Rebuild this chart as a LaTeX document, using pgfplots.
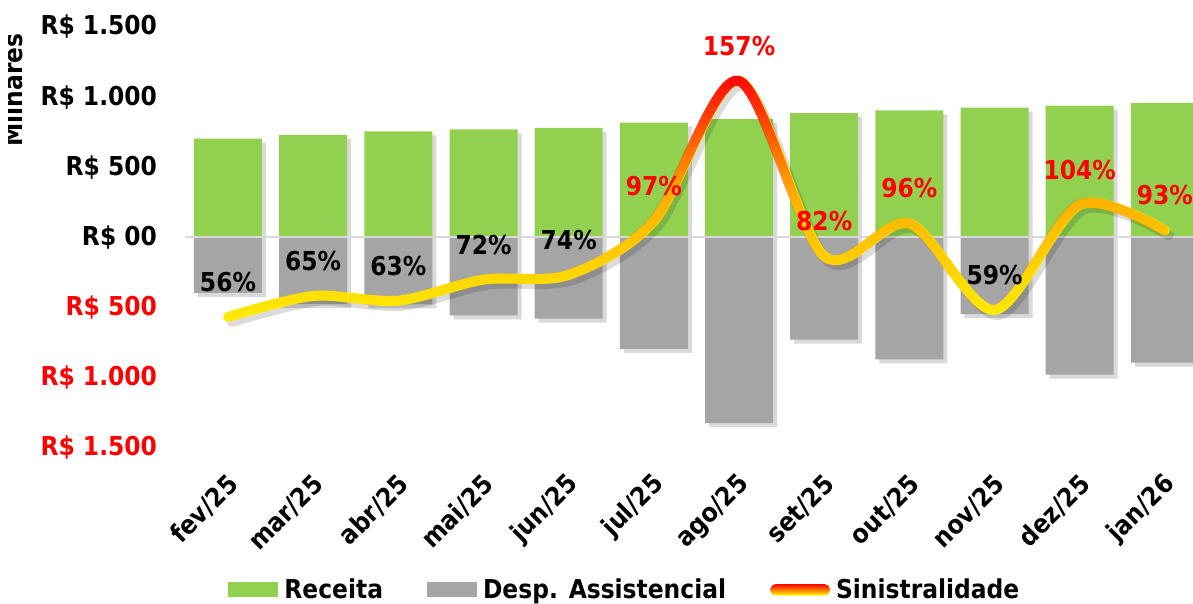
\documentclass[border=0pt]{standalone}
\usepackage{pgfplots}
\pgfplotsset{compat=1.18}
\usetikzlibrary{fadings}
\usepackage{fontspec}
\setmainfont{DejaVu Sans}[FakeStretch=0.9]
\definecolor{rec}{HTML}{92D050}
\definecolor{desp}{HTML}{A5A5A5}
\definecolor{zl}{HTML}{D9D9D9}
\definecolor{lred}{HTML}{FF0000}
\definecolor{lyel}{HTML}{FFEE00}
\newcommand\cf{\fontsize{13}{15}\selectfont\bfseries}
\tikzfading[name=redfade, top color=transparent!0, bottom color=transparent!100, middle color=transparent!74]
\begin{document}
\begin{tikzpicture}
\begin{axis}[
  at={(92.7pt,78pt)}, anchor=south west,
  scale only axis, width=503.8pt, height=210.5pt,
  xmin=-0.5, xmax=11.33, ymin=-1500, ymax=1500,
  axis line style={draw=none}, major tick length=0pt,
  ytick={-1500,-1000,-500,0,500,1000,1500},
  yticklabels={\textcolor{lred}{R\$ 1.500},\textcolor{lred}{R\$ 1.000},\textcolor{lred}{R\$ 500},R\$ 00,R\$ 500,R\$ 1.000,R\$ 1.500},
  yticklabel style={font=\cf, inner sep=0pt, anchor=east, xshift=-14pt},
  xtick={0,...,11},
  xticklabels={fev/25,mar/25,abr/25,mai/25,jun/25,jul/25,ago/25,set/25,out/25,nov/25,dez/25,jan/26},
  xticklabel style={font=\cf, inner sep=0pt, xshift=3pt, yshift=-16pt, rotate=45, anchor=east},
  legend style={at={(axis description cs:0.0423,-0.337)}, anchor=west, draw=none, fill=none,
    legend columns=3, inner sep=0pt, font=\cf,
    nodes={inner sep=0pt},
    /tikz/every odd column/.append style={column sep=3pt},
    /tikz/every even column/.append style={column sep=22pt}},
]
\addlegendimage{legend image code/.code={\fill[rec, draw=none] (0pt,-3.75pt) rectangle (25pt,3.75pt);}}
\addlegendentry{Receita}
\addlegendimage{legend image code/.code={\fill[desp, draw=none] (0pt,-3.75pt) rectangle (25pt,3.75pt);}}
\addlegendentry{Desp. Assistencial}
\addlegendimage{legend image code/.code={\shade[draw=none, top color=red, bottom color=yellow, middle color=orange, rounded corners=2.8pt] (-1pt,-2.9pt) rectangle (29pt,2.9pt);}}
\addlegendentry{Sinistralidade}
\addplot[ybar, bar width=34pt, bar shift=0pt, fill=rec, draw=none, forget plot,
  preaction={fill=black, opacity=0.15, transform canvas={xshift=2pt,yshift=-2pt}}]
  coordinates {(0,705) (1,731) (2,757) (3,771) (4,781) (5,819) (6,843) (7,886) (8,905) (9,926) (10,940) (11,959)};
\addplot[ybar, bar width=34pt, bar shift=0pt, fill=desp, draw=none, forget plot,
  preaction={fill=black, opacity=0.15, transform canvas={xshift=2pt,yshift=-2pt}}]
  coordinates {(0,-395) (1,-475) (2,-477) (3,-555) (4,-578) (5,-794) (6,-1323) (7,-727) (8,-869) (9,-546) (10,-978) (11,-892)};
\addplot[zl, line width=1pt, forget plot] coordinates {(-0.5,0) (11.33,0)};
\end{axis}
\begin{axis}[
  at={(92.7pt,78pt)}, anchor=south west,
  scale only axis, width=503.8pt, height=210.5pt,
  xmin=-0.5, xmax=11.33, ymin=0, ymax=180,
  hide axis, clip=false,
]
\addplot[smooth, tension=0.5, line width=5pt, black, opacity=0.14, line cap=round,
  transform canvas={xshift=2pt,yshift=-2.5pt}]
  coordinates {(0,56) (1,65) (2,63) (3,72) (4,74) (5,97) (6,157) (7,82) (8,96) (9,59) (10,104) (11,93)};
\addplot[smooth, tension=0.5, line width=5pt, lyel, line cap=round]
  coordinates {(0,56) (1,65) (2,63) (3,72) (4,74) (5,97) (6,157) (7,82) (8,96) (9,59) (10,104) (11,93)};
\addplot[smooth, tension=0.5, line width=5pt, red, line cap=round, path fading=redfade]
  coordinates {(0,56) (1,65) (2,63) (3,72) (4,74) (5,97) (6,157) (7,82) (8,96) (9,59) (10,104) (11,93)};
\addplot[draw=none, mark=none, point meta=explicit symbolic, nodes near coords,
  nodes near coords align={center},
  every node near coord/.append style={anchor=center, yshift=17.5pt, font=\cf, text=black}]
  coordinates {(0,56)[56\%] (1,65)[65\%] (2,63)[63\%] (3,72)[72\%] (4,74)[74\%] (9,59)[59\%]};
\addplot[draw=none, mark=none, point meta=explicit symbolic, nodes near coords,
  nodes near coords align={center},
  every node near coord/.append style={anchor=center, yshift=17.5pt, font=\cf, text=lred}]
  coordinates {(5,97)[97\%] (6,157)[157\%] (7,82)[82\%] (8,96)[96\%] (10,104)[104\%] (11,93)[93\%]};
\end{axis}
\begin{scope}
\clip (4pt,150pt) rectangle (20pt,300pt);
\node[rotate=90, anchor=base, font=\cf] at (11pt,257pt) {Milhares};
\end{scope}
\pgfresetboundingbox
\useasboundingbox (0,0) rectangle (596.5pt,302pt);
\end{tikzpicture}
\end{document}
